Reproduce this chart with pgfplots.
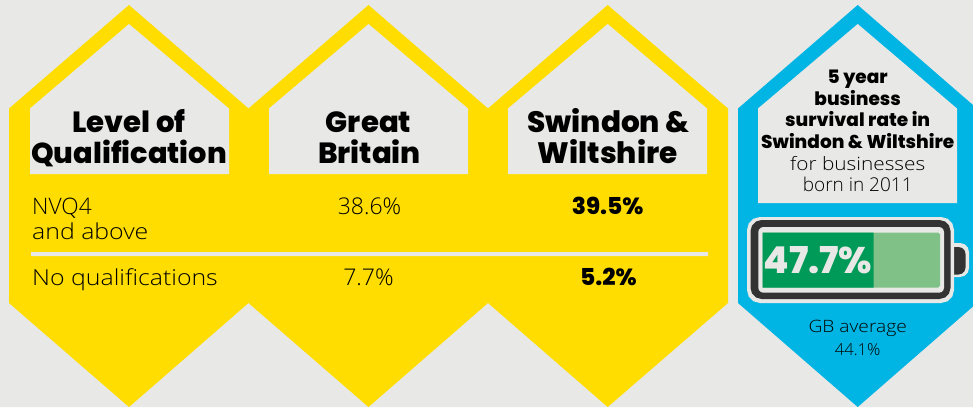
\documentclass[border=0pt]{standalone}
\usepackage{pgfplots}
\pgfplotsset{compat=1.18}
\usepackage{fontspec}
\setmainfont{Open Sans Light}[FakeStretch=1.13]
\newfontfamily\numf{Open Sans Light}
\newfontfamily\heavy{Poppins}[UprightFont=* ExtraBold]
\definecolor{bg}{HTML}{E8E8E6}
\definecolor{yel}{HTML}{FFDD00}
\definecolor{blu}{HTML}{00B5E3}
\definecolor{grn}{HTML}{009A58}
\definecolor{lgrn}{HTML}{80C188}
\definecolor{drk}{HTML}{333333}
\newcommand{\fs}[1]{\fontsize{#1}{#1}\selectfont}
\tikzset{
  lab/.style={anchor=base,inner sep=0pt,text=black},
  lbl/.style={anchor=base west,inner sep=0pt,text=black},
}
\begin{document}
\begin{tikzpicture}
\begin{axis}[
  scale only axis,
  width=973pt,height=407pt,
  xmin=0,xmax=973,ymin=0,ymax=407,
  y dir=reverse,
  hide axis,
  clip=true,
  every axis plot/.append style={no markers,draw=none},
]
% background
\addplot[fill=bg] coordinates {(0,0)(973,0)(973,407)(0,407)(0,0)};
% yellow hexagons
\addplot[fill=yel] coordinates {(9,108.5)(129,5)(248.5,108.5)(368.5,5)(488,108.5)(607.7,5)(728,108.5)(728,303)(607.7,407)(488,303)(368.5,407)(248.5,303)(129,407)(9,303)(9,108.5)};
% grey header windows
\addplot[fill=bg] coordinates {(30,174)(30,108.5)(129,24)(229,108.5)(229,174)(30,174)};
\addplot[fill=bg] coordinates {(269,174)(269,108.5)(368.5,24)(468,108.5)(468,174)(269,174)};
\addplot[fill=bg] coordinates {(508,174)(508,108.5)(607.7,24)(707,108.5)(707,174)(508,174)};
% divider
\addplot[fill=bg] coordinates {(31,252)(708,252)(708,256)(31,256)(31,252)};
% blue hexagon
\addplot[fill=blu] coordinates {(738,108.5)(857.7,5)(977,108.5)(977,303)(857.7,407)(738,303)(738,108.5)};
\addplot[fill=bg] coordinates {(758,203)(758,108.5)(857.7,24)(957,108.5)(957,203)(758,203)};
% battery terminal
\addplot[fill=bg] coordinates {(945,243)(960,243)(964.5,244.2)(967.8,247.5)(969,252)(969,268)(967.8,272.5)(964.5,275.8)(960,277)(945,277)(945,243)};
\addplot[fill=drk] coordinates {(945,247)(958.5,247)(962,247.9)(964.6,250.5)(965.5,254)(965.5,267.5)(964.6,271)(962,273.6)(958.5,274.5)(945,274.5)(945,247)};
% battery case
\addplot[fill=bg] coordinates {(747,230)(748.7,223.5)(753.5,218.7)(760,217)(941,217)(947.5,218.7)(952.3,223.5)(954,230)(954,290)(952.3,296.5)(947.5,301.3)(941,303)(760,303)(753.5,301.3)(748.7,296.5)(747,290)(747,230)};
\addplot[fill=drk] coordinates {(750.5,231)(752,225.5)(756,221.5)(761.5,220)(939.5,220)(945,221.5)(949,225.5)(950.5,231)(950.5,288)(949,293.5)(945,297.5)(939.5,299)(761.5,299)(756,297.5)(752,293.5)(750.5,288)(750.5,231)};
\addplot[fill=bg] coordinates {(758.3,232)(759,229.5)(760.8,227.7)(763.3,227)(939,227)(941.5,227.7)(943.3,229.5)(944,232)(944,287.7)(943.3,290.2)(941.5,292)(939,292.7)(763.3,292.7)(760.8,292)(759,290.2)(758.3,287.7)(758.3,232)};
% charge
\addplot[fill=lgrn] coordinates {(762.5,232.5)(938,232.5)(940,234.5)(940,285.5)(938,287.5)(762.5,287.5)(762.5,232.5)};
\addplot[fill=grn] coordinates {(762.5,232.5)(873.5,232.5)(873.5,287.5)(762.5,287.5)(762.5,232.5)};
% headers
\node[lab,font=\heavy\fs{29.2}] at (axis cs:129,132) {Level of};
\node[lab,font=\heavy\fs{28.8}] at (axis cs:129,163) {Qualification};
\node[lab,font=\heavy\fs{29.2}] at (axis cs:368.5,132) {Great};
\node[lab,font=\heavy\fs{29.2}] at (axis cs:369.5,163) {Britain};
\node[lab,font=\heavy\fs{29.5}] at (axis cs:608.5,132) {Swindon \&};
\node[lab,font=\heavy\fs{29.5}] at (axis cs:607.7,163) {Wiltshire};
% rows
\node[lbl,font=\numf\fs{22.7}] at (axis cs:32,214) {NVQ4};
\node[lbl,font=\fs{22}] at (axis cs:32,239) {and above};
\node[lbl,font=\fs{22}] at (axis cs:32,285) {No qualifications};
\node[lab,font=\numf\fs{23}] at (axis cs:369.5,214) {38.6\%};
\node[lab,font=\numf\fs{23}] at (axis cs:368.5,285) {7.7\%};
\node[lab,font=\heavy\fs{23.3}] at (axis cs:607.7,214) {39.5\%};
\node[lab,font=\heavy\fs{23.3}] at (axis cs:608.5,285) {5.2\%};
% side panel
\node[lab,font=\heavy\fs{18.5}] at (axis cs:857.7,83) {5 year};
\node[lab,font=\heavy\fs{18.5}] at (axis cs:857.7,105) {business};
\node[lab,font=\heavy\fs{18.5}] at (axis cs:857.7,126) {survival rate in};
\node[lab,font=\heavy\fs{18.5}] at (axis cs:857.7,148) {Swindon \& Wiltshire};
\node[lab,font=\fs{18.4}] at (axis cs:857.7,170) {for businesses};
\node[lab,font=\numf\fs{19}] at (axis cs:857.7,191) {born in 2011};
\node[lab,font=\heavy\fs{37},text=bg] at (axis cs:818,273) {47.7\%};
\node[lab,font=\fs{17}] at (axis cs:857.7,332) {GB average};
\node[lab,font=\numf\fs{16.5}] at (axis cs:857.7,355) {44.1\%};
\end{axis}
\end{tikzpicture}
\end{document}
